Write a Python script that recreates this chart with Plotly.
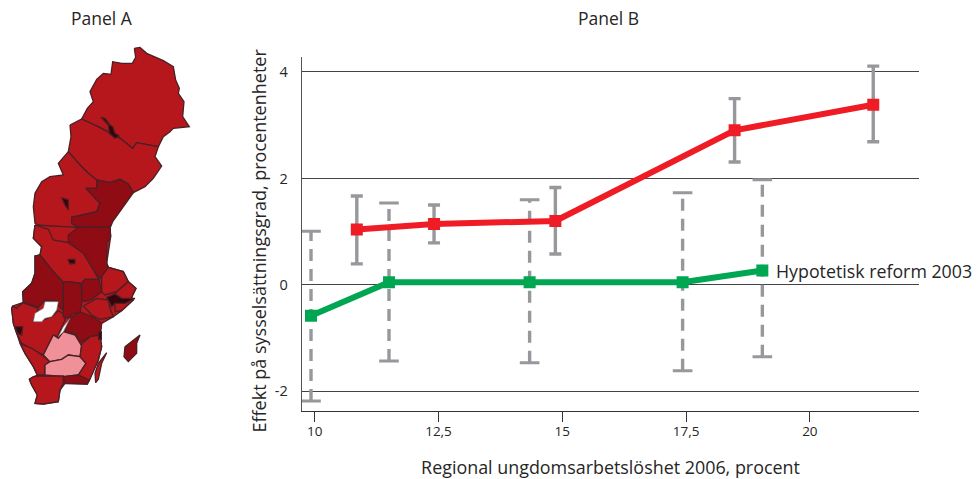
import plotly.graph_objects as go

# ---------- Panel B data ----------
x_ticks = [10, 12.5, 15, 17.5, 20]
x_tick_labels = ["10", "12,5", "15", "17,5", "20"]
y_ticks = [-2, 0, 2, 4]
y_tick_labels = ["-2", "0", "2", "4"]

red_x = [10.85, 12.41, 14.86, 18.48, 21.28]
red_y = [1.04, 1.146, 1.20, 2.905, 3.385]
red_hi = [1.67, 1.50, 1.83, 3.50, 4.11]
red_lo = [0.395, 0.79, 0.58, 2.31, 2.69]

green_x = [9.925, 11.50, 14.34, 17.43, 19.04]
green_y = [-0.58, 0.05, 0.05, 0.05, 0.27]
green_hi = [1.01, 1.54, 1.60, 1.73, 1.975]
green_lo = [-2.18, -1.43, -1.465, -1.615, -1.35]

series_label = "Hypotetisk reform 2003"
x_title = "Regional ungdomsarbetslöshet 2006, procent"
y_title = "Effekt på sysselsättningsgrad, procentenheter"

norrbotten = [(403,55),(420,52),(440,70),(490,92),(520,110),(527,150),(538,175),(535,190),(552,215),(548,260),(568,290),(520,295),(510,305),(490,320),(475,350),(410,338),(398,355),(360,325),(300,293),(245,267),(262,235),(280,215),(270,185),(290,148),(310,130),(333,133),(338,95),(365,100),(397,100),(407,82)]
vasterbotten = [(210,285),(245,267),(300,293),(360,325),(398,355),(410,338),(475,350),(465,380),(485,408),(460,445),(435,470),(400,488),(385,462),(360,448),(330,458),(290,450),(265,430),(240,405),(205,365),(213,320)]
jamtland = [(205,365),(240,405),(265,430),(290,450),(290,475),(258,475),(300,520),(290,545),(215,562),(215,580),(235,592),(205,615),(205,638),(160,630),(145,598),(105,580),(100,530),(105,490),(125,455),(150,440),(190,435),(175,400)]
vasternorrland = [(290,450),(330,458),(360,448),(385,462),(400,488),(385,510),(360,545),(338,575),(332,590),(235,592),(215,580),(215,562),(290,545),(300,520),(258,475),(290,475)]
north_dark_spots = [[(303,262),(315,265),(330,285),(338,290),(345,310),(358,318),(345,325),(328,310),(325,285)],[(185,503),(205,510),(205,540),(195,525)]]

mainland_south = [(105,15),(235,22),(330,20),(332,50),(320,130),(325,142),(370,155),(385,185),(408,205),(395,232),(400,240),(365,272),(340,290),(305,310),(300,345),(305,380),(295,420),(268,482),(262,492),(195,490),(180,510),(175,545),(130,552),(105,550),(112,525),(95,495),(88,478),(112,465),(100,440),(75,400),(60,370),(50,340),(40,310),(35,265),(38,258),(68,248),(70,245),(68,215),(95,190),(105,160),(105,108),(120,105),(125,80),(100,55)]
gavleborg = [(235,22),(330,20),(332,50),(320,70),(320,130),(325,142),(300,175),(275,150),(250,100),(205,68),(205,45)]
dalarna = [(105,15),(145,28),(160,60),(205,68),(250,100),(280,150),(297,178),(255,178),(245,190),(205,185),(190,187),(160,155),(140,130),(120,105),(125,80),(100,55)]
varmland = [(120,105),(140,130),(160,155),(190,187),(190,270),(172,258),(175,243),(135,240),(115,262),(70,245),(68,215),(95,190),(105,160),(105,108)]
vastra_gotaland = [(38,258),(50,265),(68,248),(115,265),(100,305),(135,298),(155,290),(175,272),(190,282),(195,300),(172,350),(160,345),(130,405),(95,385),(65,370),(50,340),(40,310),(35,265)]
halland = [(60,370),(95,385),(130,408),(150,425),(135,435),(133,465),(112,465),(100,440),(75,400)]
orebro = [(190,187),(205,185),(240,190),(248,230),(240,280),(220,280),(205,295),(190,290),(190,270)]
vastmanland = [(245,190),(255,178),(297,178),(305,215),(275,238),(255,245),(245,240)]
uppsala = [(305,170),(325,142),(370,155),(385,185),(350,215),(315,225),(305,215)]
stockholm = [(345,220),(385,185),(408,205),(395,232),(400,240),(365,272),(345,275),(345,248),(320,235),(335,230)]
sodermanland = [(250,258),(290,235),(325,240),(330,265),(340,290),(300,298),(275,285)]
ostergotland = [(210,295),(240,275),(280,292),(305,310),(300,345),(270,350),(240,368),(225,340),(195,335)]
jonkoping = [(160,345),(175,355),(190,335),(225,345),(245,378),(240,410),(205,405),(185,418),(150,425),(130,405)]
kronoberg = [(150,425),(185,418),(205,405),(240,410),(258,430),(235,465),(190,470),(135,465),(135,435)]
kalmar = [(245,372),(270,350),(300,345),(305,380),(295,420),(275,470),(268,482),(235,465),(258,430),(240,410)]
blekinge = [(190,470),(235,465),(268,480),(262,492),(195,490)]
skane = [(88,478),(100,470),(115,468),(190,468),(190,490),(180,510),(175,545),(130,552),(105,550),(112,525),(95,495)]
oland = [(320,398),(305,430),(295,478),(287,488),(285,460),(295,430)]
gotland = [(375,380),(420,345),(410,370),(410,400),(385,425),(372,410)]
south_dark_spots = [[(203,118),(225,118),(225,130),(210,132)],[(320,232),(345,222),(365,235),(405,235),(375,250),(345,250),(335,260)],[(45,320),(68,320),(65,345),(52,340)],[(296,335),(304,335),(304,358),(296,358)]]
lakes = [[(135,245),(175,245),(170,270),(155,290),(135,295),(125,305),(100,305),(105,280),(130,265)],[(210,295),(190,335),(175,350),(190,320)]]

RED, DARK, PINK, SPOT = "#B5171D", "#8F0C14", "#F0919A", "#38040B"
EDGE = "#4A2025"
north_groups = [(norrbotten, RED), (vasterbotten, RED), (jamtland, RED), (vasternorrland, DARK)]
south_groups = [(mainland_south, RED), (gavleborg, DARK), (dalarna, RED), (varmland, DARK), (vastra_gotaland, RED), (halland, RED), (orebro, DARK),
                (vastmanland, DARK), (uppsala, RED), (stockholm, RED), (sodermanland, RED), (ostergotland, DARK),
                (jonkoping, PINK), (kronoberg, PINK), (kalmar, RED), (blekinge, DARK), (skane, RED),
                (oland, RED), (gotland, DARK)]

fig = go.Figure()

def add_poly(pts, y0, fill, edge=EDGE, width=1.3):
    fig.add_trace(go.Scatter(
        x=[p[0] / 3 for p in pts] + [pts[0][0] / 3],
        y=[p[1] / 3 + y0 for p in pts] + [pts[0][1] / 3 + y0],
        mode="lines", fill="toself", fillcolor=fill,
        line=dict(color=edge, width=width), xaxis="x2", yaxis="y2",
        showlegend=False, hoverinfo="skip"))

for pts, c in north_groups:
    add_poly(pts, 30, c)
for pts, c in south_groups:
    add_poly(pts, 220, c)
for pts in north_dark_spots:
    add_poly(pts, 30, SPOT)
for pts in south_dark_spots:
    add_poly(pts, 220, SPOT)
for pts in lakes:
    add_poly(pts, 220, "#FFFFFF", edge="#777777", width=0.6)

# ---------- Panel B traces ----------
GREY = "#97989C"
seg_x, seg_y = [], []
for x, lo, hi in zip(green_x, green_lo, green_hi):
    seg_x += [x, x, None]
    seg_y += [lo, hi, None]
fig.add_trace(go.Scatter(x=seg_x, y=seg_y, mode="lines",
                         line=dict(color=GREY, width=3.4, dash="12px,8px"),
                         showlegend=False, hoverinfo="skip"))
fig.add_trace(go.Scatter(x=green_x + green_x, y=green_lo + green_hi, mode="markers",
                         marker=dict(symbol="line-ew", size=14, line=dict(color=GREY, width=3)),
                         showlegend=False, hoverinfo="skip"))
fig.add_trace(go.Scatter(
    x=red_x, y=red_y, mode="lines+markers",
    line=dict(color="#EF1C25", width=6),
    marker=dict(symbol="square", size=12, color="#EF1C25"),
    error_y=dict(type="data", symmetric=False,
                 array=[h - v for h, v in zip(red_hi, red_y)],
                 arrayminus=[v - l for l, v in zip(red_lo, red_y)],
                 color=GREY, thickness=3.4, width=6),
    showlegend=False, hoverinfo="skip"))
fig.add_trace(go.Scatter(
    x=green_x, y=green_y, mode="lines+markers",
    line=dict(color="#00A651", width=6),
    marker=dict(symbol="square", size=12, color="#00A651"),
    showlegend=False, hoverinfo="skip"))

FONT = "Open Sans"
TXT = "#262626"
W, H = 980, 479
fig.update_layout(
    width=W, height=H, margin=dict(l=0, r=0, t=0, b=0),
    paper_bgcolor="white", plot_bgcolor="rgba(0,0,0,0)",
    font=dict(family=FONT, size=14, color=TXT), showlegend=False,
    xaxis=dict(domain=[301.7 / W, 919.3 / W], range=[9.737, 22.21],
               tickmode="array", tickvals=x_ticks, ticktext=x_tick_labels,
               ticks="outside", ticklen=10, tickwidth=1, tickcolor="#333333",
               showline=True, linecolor="#333333", linewidth=1, showgrid=False, zeroline=False,
               ticklabelstandoff=-3,
               tickfont=dict(size=13.5, family=FONT, color=TXT),
               title=dict(text=x_title, font=dict(size=17.9, family=FONT, color=TXT), standoff=24)),
    yaxis=dict(domain=[(H - 411.3) / H, (H - 57.3) / H], range=[-2.375, 4.276],
               tickmode="array", tickvals=y_ticks, ticktext=y_tick_labels,
               ticks="outside", ticklen=10, tickcolor="rgba(0,0,0,0)",
               showline=True, linecolor="#555555", linewidth=1,
               showgrid=True, gridcolor="#444444", gridwidth=1, zeroline=False,
               tickfont=dict(size=14.5, family=FONT, color=TXT)),
    xaxis2=dict(domain=[0, 200 / W], range=[0, 200], visible=False, anchor="y2"),
    yaxis2=dict(domain=[0, 1], range=[H, 0], visible=False, anchor="x2"),
    annotations=[
        dict(text="Panel A", xref="paper", yref="paper", x=102 / W, y=1 - 18 / H,
             xanchor="center", yanchor="middle", showarrow=False,
             font=dict(size=17.5, family=FONT, color=TXT)),
        dict(text="Panel B", xref="paper", yref="paper", x=608 / W, y=1 - 18 / H,
             xanchor="center", yanchor="middle", showarrow=False,
             font=dict(size=17.5, family=FONT, color=TXT)),
        dict(text=y_title, xref="paper", yref="paper", x=258 / W, y=1 - 240.5 / H, textangle=-90,
             xanchor="center", yanchor="middle", showarrow=False,
             font=dict(size=18, family=FONT, color=TXT)),
        dict(text=series_label, x=green_x[-1], y=green_y[-1], xref="x", yref="y",
             xanchor="left", yanchor="middle", xshift=12, showarrow=False,
             font=dict(size=17.8, family=FONT, color=TXT)),
    ],
)
fig.write_html("out.html", post_script="document.body.style.margin='0';", config={"displayModeBar": False})
